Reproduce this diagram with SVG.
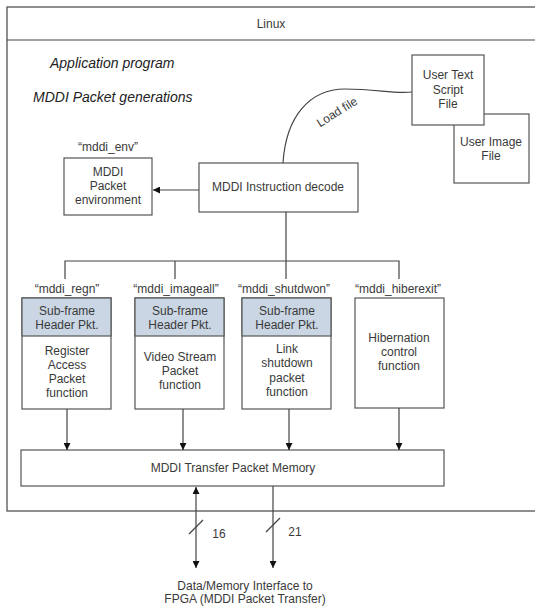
<svg xmlns="http://www.w3.org/2000/svg" width="535" height="606" viewBox="0 0 535 606">
<defs>
<style>
.t{font-family:"Liberation Sans",Arial,sans-serif;font-size:12px;fill:#3a3a3a;text-anchor:middle}
.it{font-family:"Liberation Sans",Arial,sans-serif;font-size:14px;fill:#222;font-style:italic}
.b{fill:#fff;stroke:#555;stroke-width:1.2}
.h{fill:#cad6e4;stroke:#555;stroke-width:1.2}
.c{fill:none;stroke:#444;stroke-width:1.2}
</style>
<marker id="ah" viewBox="0 0 10 10" refX="10" refY="5" markerWidth="7" markerHeight="7" markerUnits="userSpaceOnUse" orient="auto-start-reverse">
<path d="M0,0 L10,5 L0,10 z" fill="#111"/>
</marker>
</defs>
<rect width="535" height="606" fill="#fff"/>
<g id="linux">
<rect x="7" y="7" width="540" height="504" fill="none" stroke="#444" stroke-width="1.2"/>
<line x1="7" y1="40" x2="547" y2="40" stroke="#444" stroke-width="1.2"/>
<text class="t" x="271" y="28">Linux</text>
</g>
<text class="it" x="50" y="68">Application program</text>
<text class="it" x="33" y="102">MDDI Packet generations</text>
<g id="userimage">
<rect class="b" x="454" y="114" width="75" height="69"/>
<text class="t" x="491" y="146">User Image</text>
<text class="t" x="491" y="160">File</text>
</g>
<g id="usertext">
<rect class="b" x="412" y="55" width="72" height="70"/>
<text class="t" x="448" y="79">User Text</text>
<text class="t" x="448" y="94">Script</text>
<text class="t" x="448" y="108">File</text>
</g>
<g id="env">
<text class="t" x="108" y="151">“mddi_env”</text>
<rect class="b" x="64" y="158" width="88" height="57"/>
<text class="t" x="108" y="176">MDDI</text>
<text class="t" x="108" y="190">Packet</text>
<text class="t" x="108" y="204">environment</text>
</g>
<g id="decode">
<rect class="b" x="199" y="163" width="159" height="49"/>
<text class="t" x="278" y="191">MDDI Instruction decode</text>
</g>
<g id="regn">
<text class="t" x="67" y="293">“mddi_regn”</text>
<rect class="b" x="22" y="298" width="89" height="111"/>
<rect class="h" x="22" y="298" width="89" height="38"/>
<text class="t" x="67" y="315">Sub-frame</text>
<text class="t" x="67" y="329">Header Pkt.</text>
<text class="t" x="67" y="355">Register</text>
<text class="t" x="67" y="369">Access</text>
<text class="t" x="67" y="383">Packet</text>
<text class="t" x="67" y="397">function</text>
</g>
<g id="imageall">
<text class="t" x="176" y="293">“mddi_imageall”</text>
<rect class="b" x="135" y="298" width="89" height="111"/>
<rect class="h" x="135" y="298" width="89" height="38"/>
<text class="t" x="180" y="315">Sub-frame</text>
<text class="t" x="180" y="329">Header Pkt.</text>
<text class="t" x="180" y="361">Video Stream</text>
<text class="t" x="180" y="375">Packet</text>
<text class="t" x="180" y="389">function</text>
</g>
<g id="shutdwon">
<text class="t" x="284" y="293">“mddi_shutdwon”</text>
<rect class="b" x="242" y="298" width="89" height="111"/>
<rect class="h" x="242" y="298" width="89" height="38"/>
<text class="t" x="287" y="315">Sub-frame</text>
<text class="t" x="287" y="329">Header Pkt.</text>
<text class="t" x="287" y="353">Link</text>
<text class="t" x="287" y="367">shutdown</text>
<text class="t" x="287" y="382">packet</text>
<text class="t" x="287" y="396">function</text>
</g>
<g id="hiberexit">
<text class="t" x="398" y="293">“mddi_hiberexit”</text>
<rect class="b" x="355" y="298" width="89" height="110"/>
<text class="t" x="399" y="342">Hibernation</text>
<text class="t" x="399" y="356">control</text>
<text class="t" x="399" y="370">function</text>
</g>
<g id="memory">
<rect class="b" x="21" y="450" width="423" height="36"/>
<text class="t" x="233" y="472">MDDI Transfer Packet Memory</text>
</g>
<g id="fpga">
<text class="t" x="245" y="590">Data/Memory Interface to</text>
<text class="t" x="245" y="603">FPGA (MDDI Packet Transfer)</text>
</g>
<g id="connectors">
<path class="c" d="M283,163 C286,116 310,89 345,89 C378,89 392,94 412,92"/>
<text class="t" x="337" y="116" transform="rotate(-32 337 112)">Load file</text>
<line class="c" x1="199" y1="190" x2="153" y2="190" marker-end="url(#ah)"/>
<line class="c" x1="286" y1="212" x2="286" y2="279"/>
<polyline class="c" points="65,279 65,261 399,261 399,279"/>
<line class="c" x1="175" y1="261" x2="175" y2="279"/>
<line class="c" x1="67" y1="409" x2="67" y2="450" marker-end="url(#ah)"/>
<line class="c" x1="183" y1="409" x2="183" y2="450" marker-end="url(#ah)"/>
<line class="c" x1="289" y1="409" x2="289" y2="450" marker-end="url(#ah)"/>
<line class="c" x1="399" y1="408" x2="399" y2="450" marker-end="url(#ah)"/>
<line class="c" x1="196" y1="487" x2="196" y2="568" marker-start="url(#ah)" marker-end="url(#ah)"/>
<line class="c" x1="273" y1="486" x2="273" y2="568" marker-end="url(#ah)"/>
<line class="c" x1="189" y1="534" x2="203" y2="520" stroke-width="1"/>
<line class="c" x1="266" y1="532" x2="280" y2="518" stroke-width="1"/>
<text class="t" x="219" y="538">16</text>
<text class="t" x="295" y="536">21</text>
</g>
</svg>
